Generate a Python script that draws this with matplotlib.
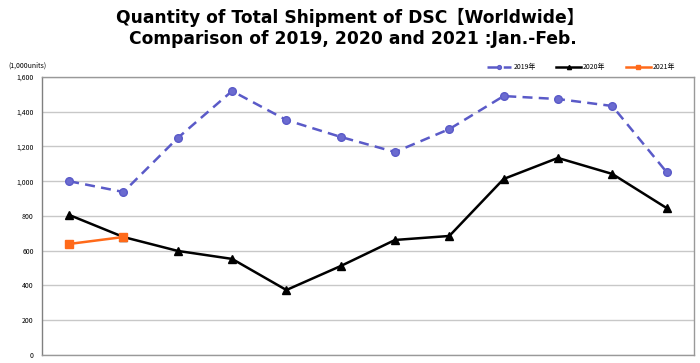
import numpy as np
import matplotlib
matplotlib.use("Agg")
import matplotlib.pyplot as plt
from matplotlib.ticker import FuncFormatter

plt.rcParams['font.family'] = ['Noto Sans CJK JP', 'DejaVu Sans']

months = list(range(1, 13))
y2019 = [1000, 938, 1249, 1519, 1352, 1255, 1168, 1300, 1490, 1473, 1433, 1053]
y2020 = [806, 679, 599, 553, 374, 512, 662, 685, 1013, 1134, 1042, 846]
y2021 = [639, 679]

fig = plt.figure(figsize=(7, 3.63), dpi=100)
ax = fig.add_axes([0.06, 0.022, 0.931, 0.766])

ax.plot(months, y2019, color='#5a5ac8', ls=(0, (4, 2.5)), lw=1.8, marker='o',
        ms=5.5, mfc='#6b6bd0', mec='#5a5ac8', label='2019年', zorder=3)
ax.plot(months, y2020, color='black', lw=1.8, marker='^', ms=6,
        label='2020年', zorder=3)
ax.plot(months[:len(y2021)], y2021, color='#ff6a1a', lw=1.8, marker='s', ms=5.5,
        label='2021年', zorder=4)

ax.set_xlim(0.5, 12.5)
ax.set_ylim(0, 1600)
ax.set_yticks(range(0, 1601, 200))
ax.yaxis.set_major_formatter(FuncFormatter(lambda v, p: f"{int(v):,}"))
ax.set_xticks([])
ax.tick_params(axis='y', length=0, labelsize=5, pad=6)
ax.grid(axis='y', color='#c8c8c8', lw=1)
ax.set_axisbelow(True)
for s in ax.spines.values():
    s.set_color('#999999')
    s.set_linewidth(1)
ax.spines['left'].set_color('#808080')

fig.text(0.012, 0.82, '(1,000units)', fontsize=5, ha='left', va='center')

title_font = ['DejaVu Sans', 'Noto Sans CJK JP']
fig.text(0.5, 0.952, 'Quantity of Total Shipment of DSC【Worldwide】',
         ha='center', va='center', fontsize=12.3, fontweight='bold',
         family=title_font)
fig.text(0.5, 0.892, ' Comparison of 2019, 2020 and 2021 :Jan.-Feb.',
         ha='center', va='center', fontsize=12.3, fontweight='bold',
         family=title_font)

fig.legend(loc='center', bbox_to_anchor=(0.83, 0.815), ncol=3, fontsize=5,
           frameon=False, handlelength=3.5, columnspacing=3, markerscale=0.5,
           handletextpad=0.3)

fig.savefig('out.png', dpi=100)
